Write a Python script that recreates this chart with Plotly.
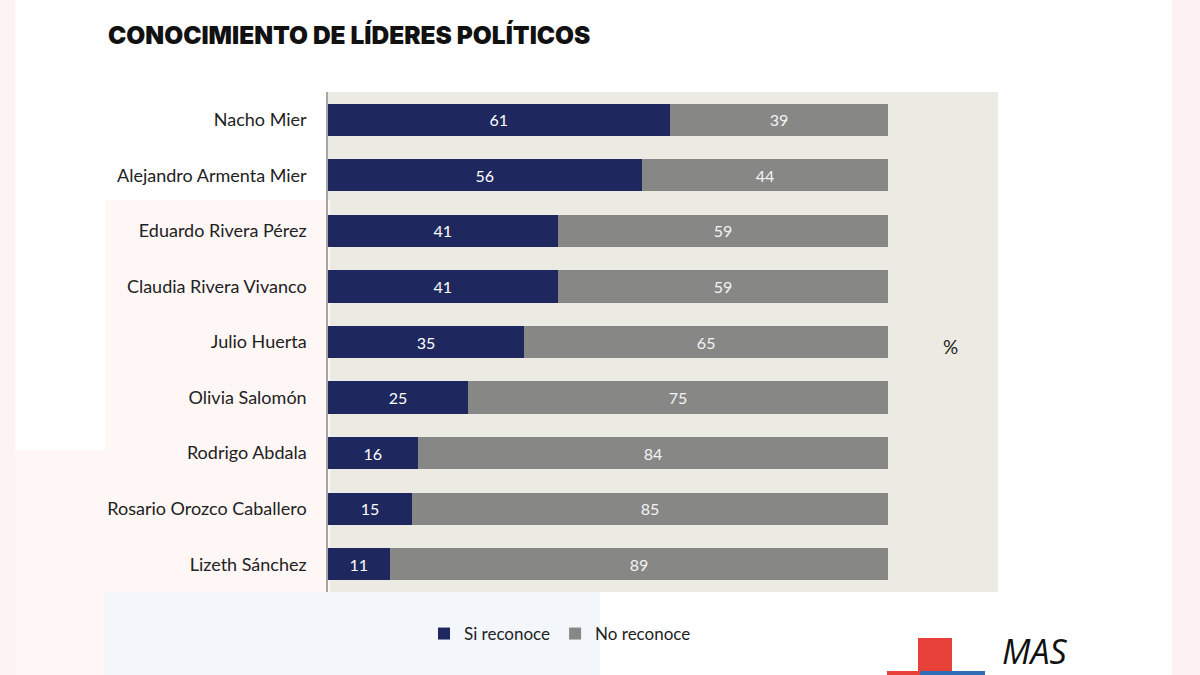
import plotly.graph_objects as go

names = ["Nacho Mier", "Alejandro Armenta Mier", "Eduardo Rivera Pérez",
         "Claudia Rivera Vivanco", "Julio Huerta", "Olivia Salomón",
         "Rodrigo Abdala", "Rosario Orozco Caballero", "Lizeth Sánchez"]
si_reconoce = [61, 56, 41, 41, 35, 25, 16, 15, 11]
no_reconoce = [39, 44, 59, 59, 65, 75, 84, 85, 89]

NAVY = "#1F285E"
GRAY = "#878786"
FONT = "Lato, 'Open Sans', sans-serif"

fig = go.Figure()
fig.add_trace(go.Bar(
    y=names, x=si_reconoce, orientation="h", name="Si reconoce",
    marker=dict(color=NAVY, line=dict(width=0)),
    text=si_reconoce, textposition="inside", insidetextanchor="middle",
    textfont=dict(color="white", size=16, family=FONT),
))
fig.add_trace(go.Bar(
    y=names, x=no_reconoce, orientation="h", name="No reconoce",
    marker=dict(color=GRAY, line=dict(width=0)),
    text=no_reconoce, textposition="inside", insidetextanchor="middle",
    textfont=dict(color="#F4F4F4", size=16, family=FONT),
))

# faint decorative background
bg_shapes = [
    dict(x0=0, x1=15, y0=0, y1=675, color="#FDF3F2"),
    dict(x0=1172, x1=1200, y0=0, y1=675, color="#FDF2F1"),
    dict(x0=105, x1=330, y0=200, y1=675, color="#FEF7F6"),
    dict(x0=15, x1=105, y0=450, y1=675, color="#FEF7F6"),
    dict(x0=105, x1=600, y0=592, y1=675, color="#F3F6FB"),
]
shapes = []
for s in bg_shapes:
    shapes.append(dict(type="rect", xref="paper", yref="paper",
                       x0=(s["x0"] - 328) / 670, x1=(s["x1"] - 328) / 670,
                       y0=(592 - s["y1"]) / 500, y1=(592 - s["y0"]) / 500,
                       fillcolor=s["color"], line=dict(width=0), layer="below"))

# logo blocks
logo = [
    dict(x0=918, x1=952, y0=638, y1=680, color="#E8413A"),
    dict(x0=887, x1=920, y0=671, y1=680, color="#E8413A"),
    dict(x0=920, x1=985, y0=671, y1=680, color="#2F6DB5"),
]
for s in logo:
    shapes.append(dict(type="rect", xref="paper", yref="paper",
                       x0=(s["x0"] - 328) / 670, x1=(s["x1"] - 328) / 670,
                       y0=(592 - s["y1"]) / 500, y1=(592 - s["y0"]) / 500,
                       fillcolor=s["color"], line=dict(width=0), layer="above"))

fig.update_layout(
    width=1200, height=675,
    barmode="stack", bargap=0.42,
    paper_bgcolor="white", plot_bgcolor="#ECEBE3",
    margin=dict(l=328, r=202, t=92, b=83),
    font=dict(family=FONT, color="#222222"),
    title=dict(text="CONOCIMIENTO DE LÍDERES POLÍTICOS",
               x=108 / 1200, xanchor="left", y=1 - 35 / 675, yanchor="middle",
               font=dict(family="Inter, 'Open Sans', sans-serif", size=24.5,
                         color="#111111", weight=900)),
    xaxis=dict(range=[0, 119.6], showticklabels=False, showgrid=False,
               zeroline=False, showline=False, fixedrange=True),
    yaxis=dict(autorange="reversed", showgrid=False, zeroline=False,
               showline=True, linecolor="#A6A6A6", linewidth=1.5,
               ticks="", ticklabelstandoff=16,
               tickfont=dict(family=FONT, size=18, color="#222222")),
    legend=dict(orientation="h", x=(560 - 328) / 670, xanchor="center",
                y=(592 - 634) / 500, yanchor="middle",
                font=dict(family=FONT, size=17, color="#222222"),
                bgcolor="rgba(0,0,0,0)", itemwidth=30, traceorder="normal"),
    shapes=shapes,
    annotations=[
        dict(text="%", xref="paper", yref="paper",
             x=(960 - 328) / 670, y=(592 - 346) / 500,
             showarrow=False, font=dict(family=FONT, size=19, color="#222222")),
        dict(text="<i>MAS</i>", xref="paper", yref="paper",
             x=(1000 - 328) / 670, y=(592 - 676) / 500, xanchor="left", yanchor="bottom",
             showarrow=False, font=dict(family="'Open Sans', sans-serif", size=34, color="#111111")),
    ],
)

fig.write_html("out.html")
